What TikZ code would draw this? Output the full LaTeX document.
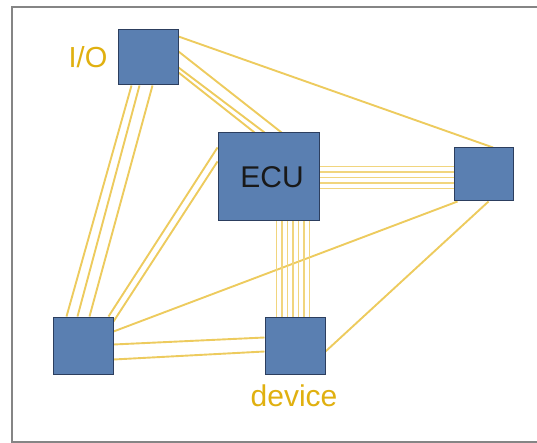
\documentclass[tikz,border=0pt]{standalone}
\usepackage{fontspec}
\setmainfont{Liberation Sans}
\usetikzlibrary{backgrounds}
\definecolor{boxfill}{HTML}{5A7FB1}
\definecolor{boxdraw}{HTML}{2C3E5E}
\definecolor{wire}{HTML}{EDCB5E}
\definecolor{gold}{HTML}{E0B010}
\definecolor{framegray}{HTML}{858585}
\tikzset{
  box/.style={draw=boxdraw, fill=boxfill, line width=1pt, inner sep=0pt},
  wireline/.style={draw=wire, line width=1.9pt},
  thinwire/.style={draw=wire!80, line width=1.4pt},
  goldlabel/.style={text=gold, font=\fontsize{29}{30}\selectfont, inner sep=0pt},
}
\begin{document}
\begin{tikzpicture}[x=1pt,y=-1pt]
\useasboundingbox (0,0) rectangle (537,443);
\draw[framegray, line width=1.6pt] (560,7) -- (12,7) -- (12,442) -- (560,442);

\node[box, minimum width=60pt, minimum height=55pt] (io) at (148,57.5) {};
\node[box, minimum width=101pt, minimum height=88pt, text=black!90,
      font=\fontsize{30}{31}\selectfont] (ecu) at (268.5,177) {\hspace{7pt}ECU};
\node[box, minimum width=59pt, minimum height=53pt] (r) at (483.5,174.5) {};
\node[box, minimum width=60pt, minimum height=57pt] (bl) at (83,345.5) {};
\node[box, minimum width=60pt, minimum height=57pt] (d) at (295,345.5) {};

\node[goldlabel] (iolabel) at (88,57.5) {I/O};
\node[goldlabel, font=\fontsize{30}{31}\selectfont] (dlabel) at (294,396) {device};

\begin{pgfonlayer}{background}
  % I/O to right box
  \draw[wireline] ([yshift=-7pt]io.north east) -- ([xshift=9.5pt]r.north);
  % I/O to ECU
  \draw[wireline] ([yshift=-22pt]io.north east) -- ([xshift=64pt]ecu.north west);
  \draw[wireline] ([yshift=-38pt]io.north east) -- ([xshift=47pt]ecu.north west);
  \draw[wireline] ([yshift=-43pt]io.north east) -- ([xshift=37pt]ecu.north west);
  % I/O to bottom left
  \draw[wireline] ([xshift=14pt]io.south west) -- ([xshift=14pt]bl.north west);
  \draw[wireline] ([xshift=22pt]io.south west) -- ([xshift=25pt]bl.north west);
  \draw[wireline] ([xshift=35pt]io.south west) -- ([xshift=37pt]bl.north west);
  % bottom left to ECU
  \draw[wireline] ([xshift=-5pt]bl.north east) -- ([yshift=-15pt]ecu.north west);
  \draw[wireline] ([yshift=-5pt]bl.north east) -- ([yshift=-29pt]ecu.north west);
  % bottom left to right box
  \draw[wireline] ([yshift=-15pt]bl.north east) -- ([xshift=4pt]r.south west);
  % bottom left to device
  \draw[wireline] ([yshift=-28pt]bl.north east) -- ([yshift=-21pt]d.north west);
  \draw[wireline] ([yshift=-43pt]bl.north east) -- ([yshift=-35pt]d.north west);
  % ECU to device bundle
  \foreach \i in {0,...,6}{
    \draw[thinwire] ([xshift={59pt+5.5pt*\i}]ecu.south west) -- ([xshift={12pt+5.5pt*\i}]d.north west);
  }
  % ECU to right box bundle
  \foreach \i in {0,...,4}{
    \draw[thinwire] ([yshift={-34pt-5.5pt*\i}]ecu.north east) -- ([yshift={-19pt-5.5pt*\i}]r.north west);
  }
  % right box to device
  \draw[wireline] ([xshift=5pt]r.south) -- ([yshift=-35pt]d.north east);
\end{pgfonlayer}
\end{tikzpicture}
\end{document}
